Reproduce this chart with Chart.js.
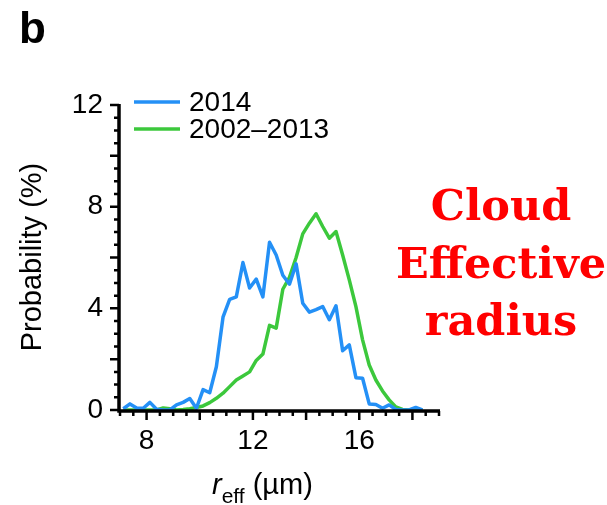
<!DOCTYPE html>
<html>
<head>
<meta charset="utf-8">
<script src="https://cdn.jsdelivr.net/npm/chart.js@4.4.1/dist/chart.umd.min.js"></script>
<style>
  html, body { margin: 0; padding: 0; background: #fff; }
  #wrap { width: 607px; height: 505px; }
</style>
</head>
<body>
<div id="wrap"><canvas id="canvas" width="607" height="505"></canvas></div>
<script>
	// bin centres of the effective radius histogram (um)
	var rEff = [7.125, 7.375, 7.625, 7.875, 8.125, 8.375, 8.625, 8.875, 9.125, 9.375,
		9.625, 9.875, 10.125, 10.375, 10.625, 10.875, 11.125, 11.375, 11.625, 11.875,
		12.125, 12.375, 12.625, 12.875, 13.125, 13.375, 13.625, 13.875, 14.125, 14.375,
		14.625, 14.875, 15.125, 15.375, 15.625, 15.875, 16.125, 16.375, 16.625, 16.875,
		17.125, 17.375, 17.625, 17.875, 18.125, 18.375];
	// probability (%) per bin
	var prob2014 = [0.05, 0.24, 0.08, 0.07, 0.30, 0.03, 0.00, 0.00, 0.20, 0.30,
		0.45, 0.07, 0.80, 0.68, 1.70, 3.65, 4.35, 4.45, 5.80, 4.80,
		5.15, 4.45, 6.60, 6.10, 5.30, 4.95, 5.75, 4.20, 3.85, 3.95,
		4.07, 3.55, 4.10, 2.33, 2.56, 1.27, 1.25, 0.24, 0.22, 0.07,
		0.20, 0.02, 0.00, 0.00, 0.10, 0.00];
	var probClim = [0.00, 0.00, 0.00, 0.00, 0.00, 0.00, 0.08, 0.05, 0.00, 0.02,
		0.05, 0.10, 0.16, 0.29, 0.46, 0.66, 0.92, 1.18, 1.34, 1.50,
		1.95, 2.20, 3.33, 3.22, 4.75, 5.22, 6.00, 6.93, 7.35, 7.72,
		7.22, 6.76, 7.02, 6.10, 5.12, 4.07, 2.76, 1.77, 1.18, 0.75,
		0.40, 0.12, 0.02, 0.00, 0.00, 0.00];
	var seriesNames = ['2014', '2002\u20132013'];
	var xTickLabels = [8, 12, 16];
	var yTickLabels = [0, 4, 8, 12];

	var blue = '#2490f6';
	var green = '#3cc83c';
	var font = '"Liberation Sans", Arial, Helvetica, sans-serif';

	function pairs(xs, ys) {
		var out = [];
		for (var i = 0; i < xs.length; ++i) {
			out.push({ x: xs[i], y: ys[i] });
		}
		return out;
	}

	// axes with long ticks every 2 and short ticks every 0.5, plus all the text
	var decor = {
		id: 'decor',
		afterDatasetsDraw: function (chart) {
			var c = chart.ctx;
			var xs = chart.scales.x, ys = chart.scales.y;
			var x0 = xs.getPixelForValue(7), x1 = xs.getPixelForValue(19);
			var y0 = ys.getPixelForValue(0), y1 = ys.getPixelForValue(12);
			c.save();
			c.strokeStyle = '#000';
			c.lineCap = 'butt';
			c.lineWidth = 3.5;
			c.beginPath();
			c.moveTo(x0 - 1, y1 - 1);
			c.lineTo(x0 - 1, y0 + 1);
			c.lineTo(x1 + 1, y0 + 1);
			c.stroke();
			c.lineWidth = 2.5;
			c.beginPath();
			var v, p, len;
			for (v = 0; v <= 12.001; v += 0.5) {
				p = ys.getPixelForValue(v);
				len = (Math.abs(v / 2 - Math.round(v / 2)) < 1e-6) ? 9 : 5;
				c.moveTo(x0 - 1, p);
				c.lineTo(x0 - 1 - len, p);
			}
			for (v = 7; v <= 19.001; v += 0.5) {
				p = xs.getPixelForValue(v);
				len = (Math.abs(v / 2 - Math.round(v / 2)) < 1e-6) ? 9 : 5;
				c.moveTo(p, y0 + 1);
				c.lineTo(p, y0 + 1 + len);
			}
			c.stroke();

			// legend
			var sets = chart.data.datasets;
			c.lineWidth = 3.5;
			c.font = '28px ' + font;
			c.textBaseline = 'middle';
			c.textAlign = 'left';
			for (var i = 0; i < sets.length; ++i) {
				var ly = 102 + i * 27;
				c.strokeStyle = sets[i].borderColor;
				c.beginPath();
				c.moveTo(134, ly);
				c.lineTo(180, ly);
				c.stroke();
				c.fillStyle = '#000';
				c.fillText(sets[i].label, 189, ly + 1);
			}

			// panel letter
			c.font = 'bold 44px ' + font;
			c.textBaseline = 'alphabetic';
			c.fillText('b', 19, 43);

			// y axis title
			c.save();
			c.translate(41, 257);
			c.rotate(-Math.PI / 2);
			c.textAlign = 'center';
			c.font = '29px ' + font;
			c.fillText('Probability (%)', 0, 0);
			c.restore();

			// x axis title: italic r with subscript eff
			c.textAlign = 'left';
			c.font = 'italic 29px ' + font;
			var tx = 212, ty = 494;
			c.fillText('r', tx, ty);
			var w = c.measureText('r').width;
			c.font = '21px ' + font;
			c.fillText('eff', tx + w, ty + 9);
			var w2 = c.measureText('eff').width;
			c.font = '29px ' + font;
			c.fillText(' (\u00b5m)', tx + w + w2, ty);

			// annotation
			c.fillStyle = '#ff0000';
			c.textAlign = 'center';
			c.font = 'bold 43px "DejaVu Serif", serif';
			c.fillText('Cloud', 501, 220);
			c.fillText('Effective', 501, 278);
			c.fillText('radius', 501, 335);
			c.restore();
		}
	};

	window.onload = function () {
		var ctx = document.getElementById('canvas').getContext('2d');
		window.myLine = new Chart(ctx, {
			type: 'line',
			data: {
				datasets: [{
					label: seriesNames[0],
					data: pairs(rEff, prob2014),
					borderColor: blue,
					borderWidth: 3.5,
					pointRadius: 0,
					tension: 0,
					fill: false,
					clip: false,
					borderJoinStyle: 'round'
				}, {
					label: seriesNames[1],
					data: pairs(rEff, probClim),
					borderColor: green,
					borderWidth: 3.5,
					pointRadius: 0,
					tension: 0,
					fill: false,
					clip: false,
					borderJoinStyle: 'round'
				}]
			},
			options: {
				responsive: false,
				animation: false,
				events: [],
				layout: { padding: { left: 0, top: 105, right: 168, bottom: 0 } },
				plugins: {
					legend: { display: false },
					title: { display: false },
					tooltip: { enabled: false }
				},
				scales: {
					x: {
						type: 'linear',
						min: 7,
						max: 19,
						grid: { display: false, drawTicks: false },
						border: { display: false },
						afterFit: function (s) { s.height = 95; },
						afterBuildTicks: function (s) {
							s.ticks = xTickLabels.map(function (v) { return { value: v }; });
						},
						ticks: {
							color: '#000',
							padding: 14,
							maxRotation: 0,
							font: { family: font, size: 28 }
						}
					},
					y: {
						min: 0,
						max: 12,
						grid: { display: false, drawTicks: false },
						border: { display: false },
						afterFit: function (s) { s.width = 120; },
						afterBuildTicks: function (s) {
							s.ticks = yTickLabels.map(function (v) { return { value: v }; });
						},
						ticks: {
							color: '#000',
							padding: 17,
							font: { family: font, size: 28 }
						}
					}
				}
			},
			plugins: [decor]
		});
	};
</script>
</body>
</html>
